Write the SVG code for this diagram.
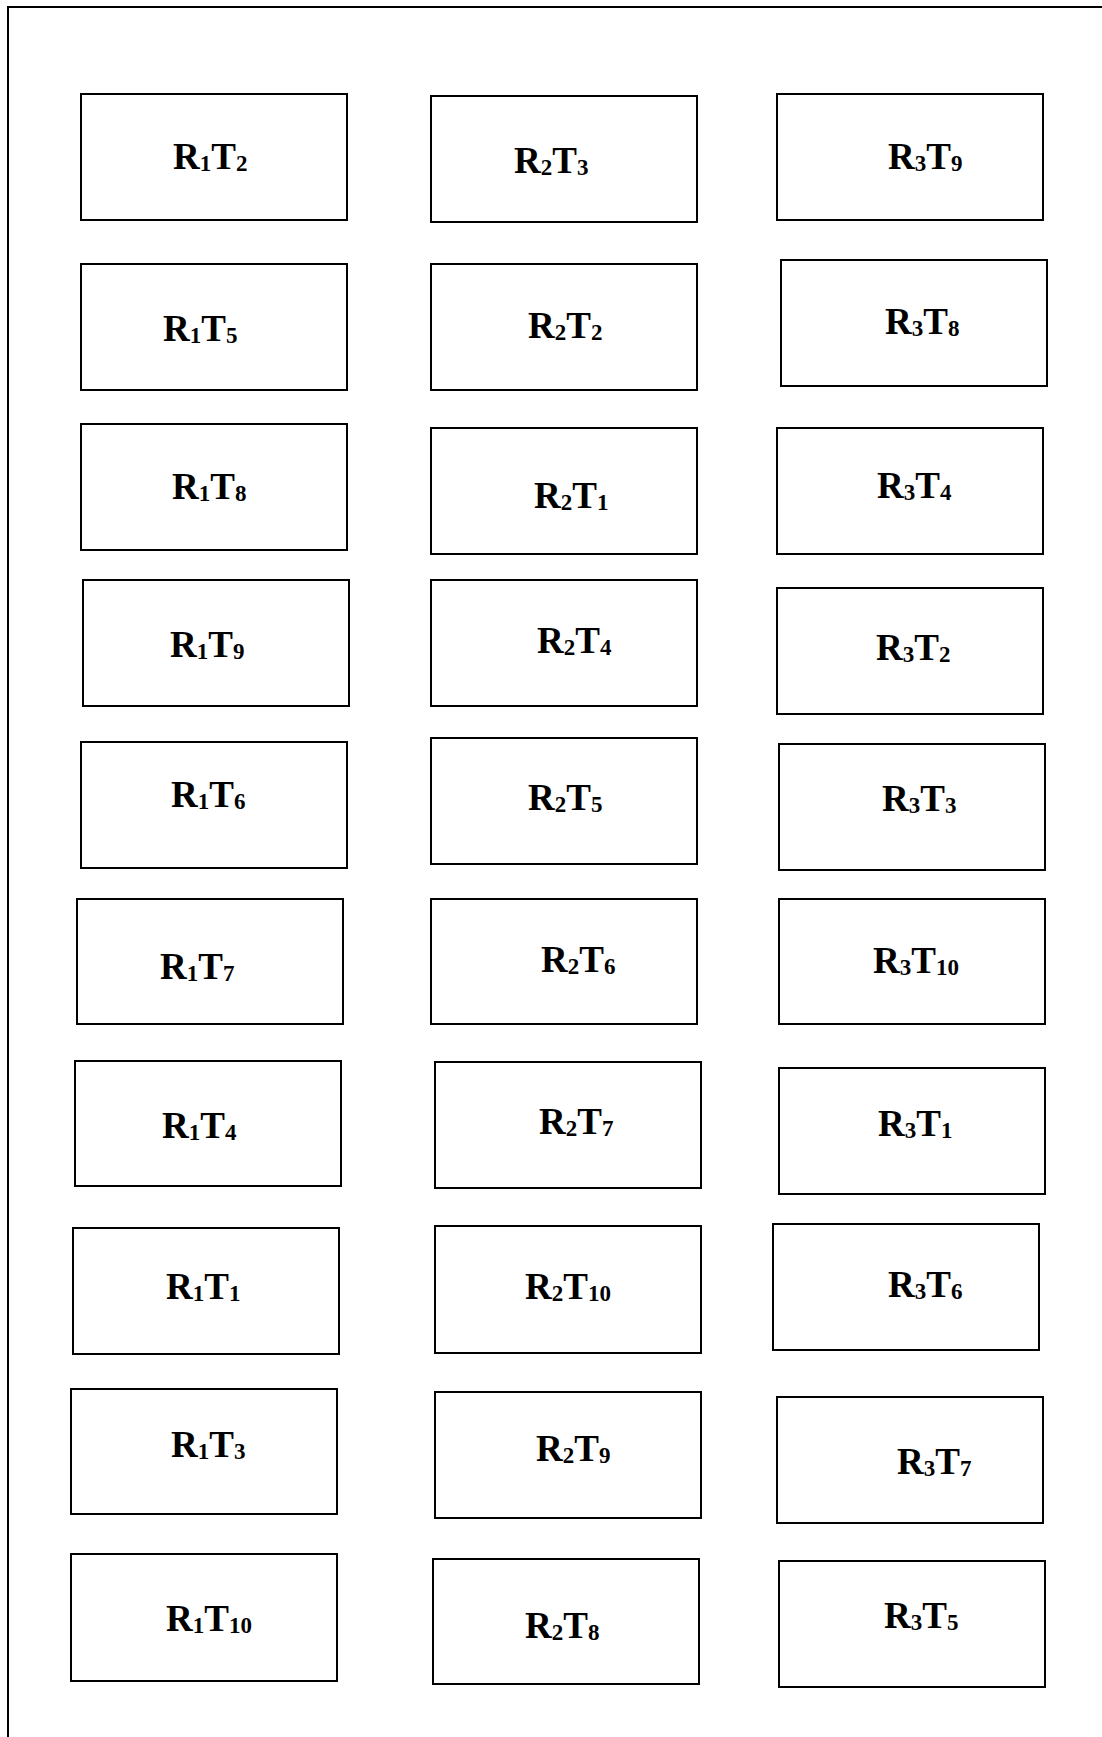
<svg xmlns="http://www.w3.org/2000/svg" width="1102" height="1737" viewBox="0 0 1102 1737">
<style>
.box{fill:#fff;stroke:#000;stroke-width:2}
.lbl{font-family:"Liberation Serif","Times New Roman",serif;font-weight:bold;font-size:37px;fill:#000}
.sub{font-size:23px}
.frame{fill:none;stroke:#000;stroke-width:2}
</style>
<rect width="1102" height="1737" fill="#fff"/>
<path class="frame" d="M1102,7 H8 V1737"/>
<g id="connectors"/>
<g id="R1T2"><rect class="box" x="81" y="94" width="266" height="126"/><text class="lbl" x="173" y="169">R<tspan class="sub" dy="2">1</tspan><tspan dy="-2">T</tspan><tspan class="sub" dy="2">2</tspan></text></g>
<g id="R1T5"><rect class="box" x="81" y="264" width="266" height="126"/><text class="lbl" x="163" y="341">R<tspan class="sub" dy="2">1</tspan><tspan dy="-2">T</tspan><tspan class="sub" dy="2">5</tspan></text></g>
<g id="R1T8"><rect class="box" x="81" y="424" width="266" height="126"/><text class="lbl" x="172" y="499">R<tspan class="sub" dy="2">1</tspan><tspan dy="-2">T</tspan><tspan class="sub" dy="2">8</tspan></text></g>
<g id="R1T9"><rect class="box" x="83" y="580" width="266" height="126"/><text class="lbl" x="170" y="657">R<tspan class="sub" dy="2">1</tspan><tspan dy="-2">T</tspan><tspan class="sub" dy="2">9</tspan></text></g>
<g id="R1T6"><rect class="box" x="81" y="742" width="266" height="126"/><text class="lbl" x="171" y="807">R<tspan class="sub" dy="2">1</tspan><tspan dy="-2">T</tspan><tspan class="sub" dy="2">6</tspan></text></g>
<g id="R1T7"><rect class="box" x="77" y="899" width="266" height="125"/><text class="lbl" x="160" y="979">R<tspan class="sub" dy="2">1</tspan><tspan dy="-2">T</tspan><tspan class="sub" dy="2">7</tspan></text></g>
<g id="R1T4"><rect class="box" x="75" y="1061" width="266" height="125"/><text class="lbl" x="162" y="1138">R<tspan class="sub" dy="2">1</tspan><tspan dy="-2">T</tspan><tspan class="sub" dy="2">4</tspan></text></g>
<g id="R1T1"><rect class="box" x="73" y="1228" width="266" height="126"/><text class="lbl" x="166" y="1299">R<tspan class="sub" dy="2">1</tspan><tspan dy="-2">T</tspan><tspan class="sub" dy="2">1</tspan></text></g>
<g id="R1T3"><rect class="box" x="71" y="1389" width="266" height="125"/><text class="lbl" x="171" y="1457">R<tspan class="sub" dy="2">1</tspan><tspan dy="-2">T</tspan><tspan class="sub" dy="2">3</tspan></text></g>
<g id="R1T10"><rect class="box" x="71" y="1554" width="266" height="127"/><text class="lbl" x="166" y="1631">R<tspan class="sub" dy="2">1</tspan><tspan dy="-2">T</tspan><tspan class="sub" dy="2">10</tspan></text></g>
<g id="R2T3"><rect class="box" x="431" y="96" width="266" height="126"/><text class="lbl" x="514" y="173">R<tspan class="sub" dy="2">2</tspan><tspan dy="-2">T</tspan><tspan class="sub" dy="2">3</tspan></text></g>
<g id="R2T2"><rect class="box" x="431" y="264" width="266" height="126"/><text class="lbl" x="528" y="338">R<tspan class="sub" dy="2">2</tspan><tspan dy="-2">T</tspan><tspan class="sub" dy="2">2</tspan></text></g>
<g id="R2T1"><rect class="box" x="431" y="428" width="266" height="126"/><text class="lbl" x="534" y="508">R<tspan class="sub" dy="2">2</tspan><tspan dy="-2">T</tspan><tspan class="sub" dy="2">1</tspan></text></g>
<g id="R2T4"><rect class="box" x="431" y="580" width="266" height="126"/><text class="lbl" x="537" y="653">R<tspan class="sub" dy="2">2</tspan><tspan dy="-2">T</tspan><tspan class="sub" dy="2">4</tspan></text></g>
<g id="R2T5"><rect class="box" x="431" y="738" width="266" height="126"/><text class="lbl" x="528" y="810">R<tspan class="sub" dy="2">2</tspan><tspan dy="-2">T</tspan><tspan class="sub" dy="2">5</tspan></text></g>
<g id="R2T6"><rect class="box" x="431" y="899" width="266" height="125"/><text class="lbl" x="541" y="972">R<tspan class="sub" dy="2">2</tspan><tspan dy="-2">T</tspan><tspan class="sub" dy="2">6</tspan></text></g>
<g id="R2T7"><rect class="box" x="435" y="1062" width="266" height="126"/><text class="lbl" x="539" y="1134">R<tspan class="sub" dy="2">2</tspan><tspan dy="-2">T</tspan><tspan class="sub" dy="2">7</tspan></text></g>
<g id="R2T10"><rect class="box" x="435" y="1226" width="266" height="127"/><text class="lbl" x="525" y="1299">R<tspan class="sub" dy="2">2</tspan><tspan dy="-2">T</tspan><tspan class="sub" dy="2">10</tspan></text></g>
<g id="R2T9"><rect class="box" x="435" y="1392" width="266" height="126"/><text class="lbl" x="536" y="1461">R<tspan class="sub" dy="2">2</tspan><tspan dy="-2">T</tspan><tspan class="sub" dy="2">9</tspan></text></g>
<g id="R2T8"><rect class="box" x="433" y="1559" width="266" height="125"/><text class="lbl" x="525" y="1638">R<tspan class="sub" dy="2">2</tspan><tspan dy="-2">T</tspan><tspan class="sub" dy="2">8</tspan></text></g>
<g id="R3T9"><rect class="box" x="777" y="94" width="266" height="126"/><text class="lbl" x="888" y="169">R<tspan class="sub" dy="2">3</tspan><tspan dy="-2">T</tspan><tspan class="sub" dy="2">9</tspan></text></g>
<g id="R3T8"><rect class="box" x="781" y="260" width="266" height="126"/><text class="lbl" x="885" y="334">R<tspan class="sub" dy="2">3</tspan><tspan dy="-2">T</tspan><tspan class="sub" dy="2">8</tspan></text></g>
<g id="R3T4"><rect class="box" x="777" y="428" width="266" height="126"/><text class="lbl" x="877" y="498">R<tspan class="sub" dy="2">3</tspan><tspan dy="-2">T</tspan><tspan class="sub" dy="2">4</tspan></text></g>
<g id="R3T2"><rect class="box" x="777" y="588" width="266" height="126"/><text class="lbl" x="876" y="660">R<tspan class="sub" dy="2">3</tspan><tspan dy="-2">T</tspan><tspan class="sub" dy="2">2</tspan></text></g>
<g id="R3T3"><rect class="box" x="779" y="744" width="266" height="126"/><text class="lbl" x="882" y="811">R<tspan class="sub" dy="2">3</tspan><tspan dy="-2">T</tspan><tspan class="sub" dy="2">3</tspan></text></g>
<g id="R3T10"><rect class="box" x="779" y="899" width="266" height="125"/><text class="lbl" x="873" y="973">R<tspan class="sub" dy="2">3</tspan><tspan dy="-2">T</tspan><tspan class="sub" dy="2">10</tspan></text></g>
<g id="R3T1"><rect class="box" x="779" y="1068" width="266" height="126"/><text class="lbl" x="878" y="1136">R<tspan class="sub" dy="2">3</tspan><tspan dy="-2">T</tspan><tspan class="sub" dy="2">1</tspan></text></g>
<g id="R3T6"><rect class="box" x="773" y="1224" width="266" height="126"/><text class="lbl" x="888" y="1297">R<tspan class="sub" dy="2">3</tspan><tspan dy="-2">T</tspan><tspan class="sub" dy="2">6</tspan></text></g>
<g id="R3T7"><rect class="box" x="777" y="1397" width="266" height="126"/><text class="lbl" x="897" y="1474">R<tspan class="sub" dy="2">3</tspan><tspan dy="-2">T</tspan><tspan class="sub" dy="2">7</tspan></text></g>
<g id="R3T5"><rect class="box" x="779" y="1561" width="266" height="126"/><text class="lbl" x="884" y="1628">R<tspan class="sub" dy="2">3</tspan><tspan dy="-2">T</tspan><tspan class="sub" dy="2">5</tspan></text></g>
</svg>
